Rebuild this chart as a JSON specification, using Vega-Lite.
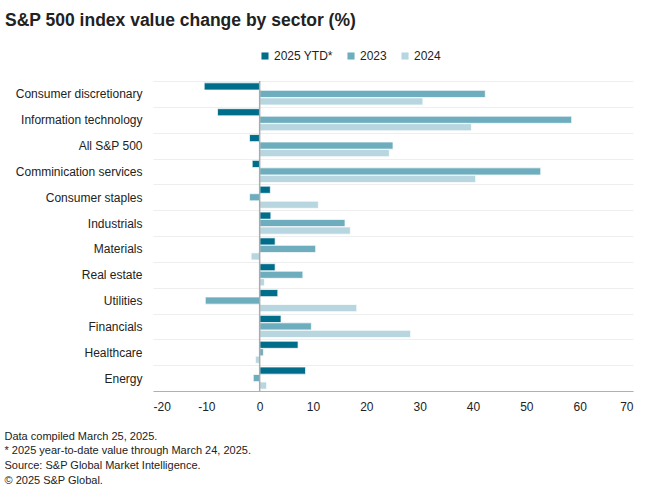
{
  "$schema": "https://vega.github.io/schema/vega-lite/v6.json",
  "autosize": "none",
  "width": 480,
  "height": 310,
  "padding": {"left": 153, "top": 81, "right": 27, "bottom": 109},
  "background": "white",
  "title": {
    "text": "S&P 500 index value change by sector (%)",
    "anchor": "start",
    "frame": "group",
    "dx": -148,
    "dy": -21,
    "fontSize": 17.5,
    "fontWeight": "bold",
    "font": "Liberation Sans",
    "color": "#222222",
    "offset": 0
  },
  "data": {
    "values": [
      {"sector": "Consumer discretionary", "series": "2025 YTD*", "value": -10.4},
      {"sector": "Consumer discretionary", "series": "2023", "value": 42.3},
      {"sector": "Consumer discretionary", "series": "2024", "value": 30.6},
      {"sector": "Information technology", "series": "2025 YTD*", "value": -7.9},
      {"sector": "Information technology", "series": "2023", "value": 58.5},
      {"sector": "Information technology", "series": "2024", "value": 39.7},
      {"sector": "All S&P 500", "series": "2025 YTD*", "value": -1.9},
      {"sector": "All S&P 500", "series": "2023", "value": 25.0},
      {"sector": "All S&P 500", "series": "2024", "value": 24.3},
      {"sector": "Comminication services", "series": "2025 YTD*", "value": -1.4},
      {"sector": "Comminication services", "series": "2023", "value": 52.7},
      {"sector": "Comminication services", "series": "2024", "value": 40.5},
      {"sector": "Consumer staples", "series": "2025 YTD*", "value": 2.0},
      {"sector": "Consumer staples", "series": "2023", "value": -1.9},
      {"sector": "Consumer staples", "series": "2024", "value": 11.0},
      {"sector": "Industrials", "series": "2025 YTD*", "value": 2.1},
      {"sector": "Industrials", "series": "2023", "value": 16.0},
      {"sector": "Industrials", "series": "2024", "value": 17.0},
      {"sector": "Materials", "series": "2025 YTD*", "value": 2.9},
      {"sector": "Materials", "series": "2023", "value": 10.5},
      {"sector": "Materials", "series": "2024", "value": -1.6},
      {"sector": "Real estate", "series": "2025 YTD*", "value": 2.9},
      {"sector": "Real estate", "series": "2023", "value": 8.1},
      {"sector": "Real estate", "series": "2024", "value": 0.9},
      {"sector": "Utilities", "series": "2025 YTD*", "value": 3.4},
      {"sector": "Utilities", "series": "2023", "value": -10.2},
      {"sector": "Utilities", "series": "2024", "value": 18.2},
      {"sector": "Financials", "series": "2025 YTD*", "value": 4.0},
      {"sector": "Financials", "series": "2023", "value": 9.7},
      {"sector": "Financials", "series": "2024", "value": 28.3},
      {"sector": "Healthcare", "series": "2025 YTD*", "value": 7.2},
      {"sector": "Healthcare", "series": "2023", "value": 0.7},
      {"sector": "Healthcare", "series": "2024", "value": -0.8},
      {"sector": "Energy", "series": "2025 YTD*", "value": 8.6},
      {"sector": "Energy", "series": "2023", "value": -1.2},
      {"sector": "Energy", "series": "2024", "value": 1.3}
    ]
  },
  "config": {
    "font": "Liberation Sans",
    "view": {"stroke": null}
  },
  "layer": [
    {
      "mark": {"type": "bar", "stroke": "white", "strokeWidth": 0.7},
      "encoding": {
        "y": {
          "field": "sector",
          "type": "nominal",
          "sort": null,
          "scale": {"paddingInner": 0, "paddingOuter": 0},
          "axis": {
            "title": null,
            "labelFontSize": 12,
            "labelColor": "#222222",
            "labelPadding": 11,
            "ticks": false,
            "domain": false,
            "grid": true,
            "tickBand": "extent",
            "gridColor": "#eeeeee",
            "gridWidth": 1
          }
        },
        "yOffset": {
          "field": "series",
          "type": "nominal",
          "sort": ["2025 YTD*", "2023", "2024"],
          "scale": {"paddingInner": 0.05, "paddingOuter": 0.25}
        },
        "x": {
          "field": "value",
          "type": "quantitative",
          "scale": {"domain": [-20, 70], "nice": false, "zero": false},
          "axis": {
            "values": [-20, -10, 0, 10, 20, 30, 40, 50, 60, 70],
            "labelExpr": "replace(datum.label, '−', '-')",
            "grid": false,
            "ticks": false,
            "domainColor": "#b0b0b0",
            "domainWidth": 1,
            "labelFontSize": 12,
            "labelColor": "#222222",
            "labelPadding": 10,
            "title": [
              "Data compiled March 25, 2025.",
              "* 2025 year-to-date value through March 24, 2025.",
              "Source: S&P Global Market Intelligence.",
              "© 2025 S&P Global."
            ],
            "titleFontSize": 11,
            "titleFontWeight": "normal",
            "titleColor": "#222222",
            "titleAlign": "left",
            "titleAnchor": "start",
            "titleBaseline": "top",
            "titleX": -149,
            "titleY": 39,
            "titleLineHeight": 14.9
          }
        },
        "color": {
          "field": "series",
          "type": "nominal",
          "sort": ["2025 YTD*", "2023", "2024"],
          "scale": {
            "domain": ["2025 YTD*", "2023", "2024"],
            "range": ["#006e8a", "#6eadbe", "#b7d6df"]
          },
          "legend": {
            "title": null,
            "orient": "none",
            "direction": "horizontal",
            "legendX": 106,
            "legendY": -31,
            "symbolType": "square",
            "symbolSize": 50,
            "symbolStrokeWidth": 0,
            "labelFontSize": 12,
            "labelColor": "#222222",
            "labelOffset": 3,
            "columnPadding": 12
          }
        }
      }
    },
    {
      "data": {"values": [{"zero": 0}]},
      "mark": {"type": "rule", "color": "#aaaaaa", "strokeWidth": 1.5},
      "encoding": {
        "x": {"field": "zero", "type": "quantitative"}
      }
    }
  ]
}
